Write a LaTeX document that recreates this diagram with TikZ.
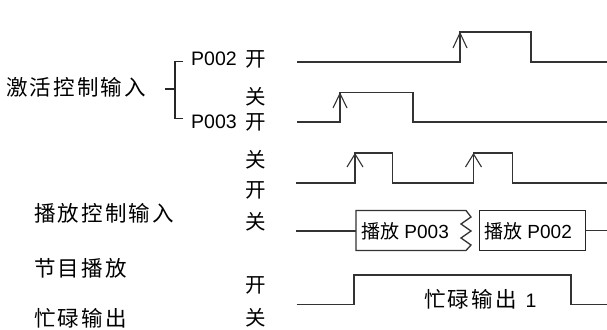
\documentclass[tikz,border=0pt]{standalone}
\usepackage{fontspec}
\setmainfont{Liberation Sans}
\newfontfamily\cjk{Noto Sans CJK SC}
\newfontfamily\cjks[LetterSpace=10]{Noto Sans CJK SC}
\begin{document}
\begin{tikzpicture}[x=1pt,y=-1pt,
  wave/.style={draw=black!80,line width=1.3pt},
  chev/.style={draw=black!80,line width=1.1pt},
  lab/.style={anchor=west,inner sep=0pt,font=\fontsize{21.5}{21.5}\selectfont\cjks},
  onoff/.style={anchor=center,inner sep=0pt,font=\fontsize{20.5}{20.5}\selectfont\cjk},
  pname/.style={anchor=west,inner sep=0pt,font=\fontsize{19.5}{19.5}\selectfont},
  boxtext/.style={anchor=center,inner sep=0pt,font=\fontsize{19}{19}\selectfont}]
\useasboundingbox (0,0) rectangle (607,329);
% left labels
\node[lab] (l1) at (6,87) {激活控制输入};
\node[lab] (l2) at (34,213) {播放控制输入};
\node[lab] (l3) at (34,268) {节目播放};
\node[lab] (l4) at (34,318) {忙碌输出};
% brace
\draw[line width=1.1pt,black!85] (183,61.7) -- (175,61.7) -- (175,118.5) -- (183,118.5);
\draw[line width=1.1pt,black!85] (165,89) -- (175,89);
\node[pname] (p2) at (191,59) {P002};
\node[pname] (p3) at (191,121.5) {P003};
% on/off labels
\node[onoff] (o1) at (256,59) {开};
\node[onoff] (f1) at (256,97) {关};
\node[onoff] (o2) at (256,122) {开};
\node[onoff] (f2) at (256,160) {关};
\node[onoff] (o3) at (256,190) {开};
\node[onoff] (f3) at (256,222) {关};
\node[onoff] (o4) at (256,285) {开};
\node[onoff] (f4) at (256,318) {关};
% wave 1 (P002)
\draw[wave] (297,62) -- (460,62) -- (460,32) -- (531,32) -- (531,62) -- (607,62);
\draw[chev] (453,48) -- (460,33) -- (467,48);
% wave 2 (P003)
\draw[wave] (297,122) -- (340,122) -- (340,92.5) -- (413,92.5) -- (413,122) -- (607,122);
\draw[chev] (333,108) -- (340,93.5) -- (347,108);
% wave 3 (play control)
\draw[wave] (296,183) -- (355,183) -- (355,153) -- (392.5,153) -- (392.5,183)
  -- (473.5,183) -- (473.5,153) -- (512.5,153) -- (512.5,183) -- (607,183);
\draw[chev] (347,167) -- (355,154) -- (363,167);
\draw[chev] (465.5,167) -- (473.5,154) -- (481.5,167);
% wave 4 (program playback)
\draw[wave] (296,231) -- (356,231);
\draw[wave,line join=miter] (466,210.5) -- (356,210.5) -- (356,250.5) -- (466,250.5)
  -- (471,245) -- (461,238) -- (471,231) -- (461,224) -- (471,217) -- cycle;
\node[boxtext] (b1) at (405,231) {{\fontsize{19}{19}\selectfont\cjk 播放} P003};
\node[draw=black!85,line width=1.2pt,minimum width=106pt,minimum height=40pt,inner sep=0pt,anchor=west] (b2) at (479,230.5) {};
\node[boxtext] (b2t) at (528,231) {{\fontsize{19}{19}\selectfont\cjk 播放} P002};
\draw[wave] (b2.east) -- (607,230.5);
% wave 5 (busy)
\draw[wave] (296.5,304.5) -- (354,304.5) -- (354,275) -- (571,275) -- (571,304.5) -- (607,304.5);
\node[anchor=west,inner sep=0pt,font=\fontsize{19.5}{19.5}\selectfont] (bt) at (424,299) {{\fontsize{21.5}{21.5}\selectfont\cjks 忙碌输出}\hspace{9pt}1};
\end{tikzpicture}
\end{document}
